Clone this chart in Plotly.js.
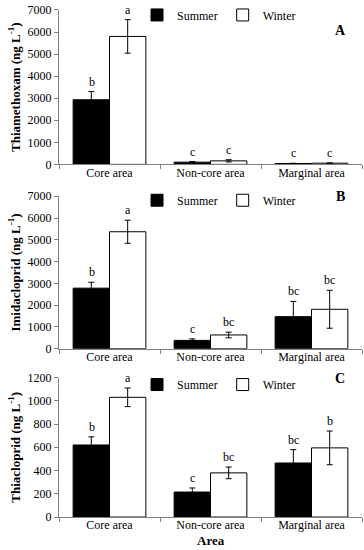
<!DOCTYPE html>
<html>
<head>
<meta charset="utf-8">
<script src="https://cdn.plot.ly/plotly-3.0.1.min.js"></script>
<style>html,body{margin:0;padding:0;background:#fff;}#chart{width:364px;height:550px;}</style>
</head>
<body>
<div id="chart"></div>
<script>
// ---- data ----
const areas = ["Core area", "Non-core area", "Marginal area"];

// Panel A: Thiamethoxam
const thiaSummer = [2930, 100, 40];
const thiaSummerErr = [370, 30, 10];
const thiaWinter = [5800, 160, 55];
const thiaWinterErr = [760, 50, 10];
const thiaSummerLetters = ["b", "c", "c"];
const thiaWinterLetters = ["a", "c", "c"];

// Panel B: Imidacloprid
const imiSummer = [2780, 380, 1470];
const imiSummerErr = [270, 70, 700];
const imiWinter = [5370, 630, 1810];
const imiWinterErr = [530, 130, 870];
const imiSummerLetters = ["b", "c", "bc"];
const imiWinterLetters = ["a", "bc", "bc"];

// Panel C: Thiacloprid
const thcSummer = [620, 215, 465];
const thcSummerErr = [70, 35, 115];
const thcWinter = [1030, 380, 595];
const thcWinterErr = [80, 50, 145];
const thcSummerLetters = ["b", "c", "bc"];
const thcWinterLetters = ["a", "bc", "b"];

const xTitle = "Area";

const panels = [
  {title: "Thiamethoxam (ng L<sup>-1</sup>)", tag: "A", s: thiaSummer, se: thiaSummerErr, w: thiaWinter, we: thiaWinterErr, sl: thiaSummerLetters, wl: thiaWinterLetters, range: [0, 7000], dtick: 1000},
  {title: "Imidacloprid (ng L<sup>-1</sup>)", tag: "B", s: imiSummer, se: imiSummerErr, w: imiWinter, we: imiWinterErr, sl: imiSummerLetters, wl: imiWinterLetters, range: [0, 7000], dtick: 1000},
  {title: "Thiacloprid (ng L<sup>-1</sup>)", tag: "C", s: thcSummer, se: thcSummerErr, w: thcWinter, we: thcWinterErr, sl: thcSummerLetters, wl: thcWinterLetters, range: [0, 1200], dtick: 200}
];

// ---- layout geometry (pixels in 364x550) ----
const W = 364, H = 550;
const MB = 24;                 // bottom margin (room for the "Area" title)
const PH = H - MB;             // plot-area height in px
const fy = px => 1 - px / PH;  // pixel row -> paper fraction
const plotX = [59, 362];
const plotY = [[8, 163], [195, 348], [377, 517]];
const legendY = [13, 199, 384];
const tagY = [29, 195, 378];
const FONT = "Liberation Serif, Times New Roman, serif";
const AXC = "#808080";

const traces = [];
const annotations = [];
const layout = {
  width: W, height: H,
  margin: {l: 0, r: 0, t: 0, b: MB},
  paper_bgcolor: "#fff", plot_bgcolor: "#fff",
  font: {family: FONT, size: 12, color: "#000"},
  barmode: "group", bargap: 0.28, bargroupgap: 0,
  showlegend: true,
  annotations: annotations
};

panels.forEach((p, i) => {
  const n = i === 0 ? "" : String(i + 1);
  const xa = "x" + n, ya = "y" + n;
  const lg = "legend" + n;
  traces.push({
    type: "bar", name: "Summer", x: areas, y: p.s, xaxis: xa, yaxis: ya,
    legend: lg,
    marker: {color: "#000", line: {color: "#000", width: 1}},
    error_y: {type: "data", array: p.se, visible: true, color: "#000", thickness: 1, width: 3}
  });
  traces.push({
    type: "bar", name: "Winter", x: areas, y: p.w, xaxis: xa, yaxis: ya,
    legend: lg,
    marker: {color: "#fff", line: {color: "#000", width: 1}},
    error_y: {type: "data", array: p.we, visible: true, color: "#000", thickness: 1, width: 3}
  });
  layout["xaxis" + n] = {
    domain: [plotX[0] / W, plotX[1] / W], anchor: ya,
    type: "category", showline: true, linecolor: AXC, linewidth: 1,
    ticks: "outside", ticklen: 4, tickcolor: AXC, tickson: "boundaries",
    ticklabelstandoff: -3,
    showgrid: false, zeroline: false, automargin: false,
    tickfont: {family: FONT, size: 12, color: "#000"},
    title: {text: ""}
  };
  layout["yaxis" + n] = {
    domain: [fy(plotY[i][1]), fy(plotY[i][0])], anchor: xa,
    range: p.range, dtick: p.dtick, tick0: 0,
    showline: true, linecolor: AXC, linewidth: 1,
    ticks: "outside", ticklen: 4, tickcolor: AXC,
    showgrid: false, zeroline: false, automargin: false,
    tickfont: {family: FONT, size: 12, color: "#000"},
    title: {text: "<b>" + p.title + "</b>", font: {family: FONT, size: 13, color: "#000"}, standoff: 4}
  };
  layout[lg] = {
    x: 137 / W, xanchor: "left", y: fy(legendY[i]), yanchor: "middle",
    orientation: "h", bgcolor: "rgba(0,0,0,0)", borderwidth: 0,
    font: {family: FONT, size: 12, color: "#000"},
    itemwidth: 30, tracegroupgap: 0
  };
  // significance letters
  areas.forEach((a, k) => {
    annotations.push({x: a, y: p.s[k] + p.se[k], xref: xa, yref: ya, text: p.sl[k], showarrow: false,
      xshift: -18, yshift: 1, yanchor: "bottom", font: {family: FONT, size: 12, color: "#000"}});
    annotations.push({x: a, y: p.w[k] + p.we[k], xref: xa, yref: ya, text: p.wl[k], showarrow: false,
      xshift: 18, yshift: 1, yanchor: "bottom", font: {family: FONT, size: 12, color: "#000"}});
  });
  // panel tag
  annotations.push({x: 340 / W, y: fy(tagY[i]), xref: "paper", yref: "paper", text: "<b>" + p.tag + "</b>",
    showarrow: false, xanchor: "center", yanchor: "middle", font: {family: FONT, size: 14, color: "#000"}});
});

// shared x-axis title under the bottom panel
annotations.push({x: (plotX[0] + plotX[1]) / 2 / W, y: fy(541), xref: "paper", yref: "paper",
  text: "<b>" + xTitle + "</b>", showarrow: false, xanchor: "center", yanchor: "middle", borderpad: 0,
  font: {family: FONT, size: 13, color: "#000"}});

Plotly.newPlot("chart", traces, layout, {displayModeBar: false, staticPlot: true});
</script>
</body>
</html>
